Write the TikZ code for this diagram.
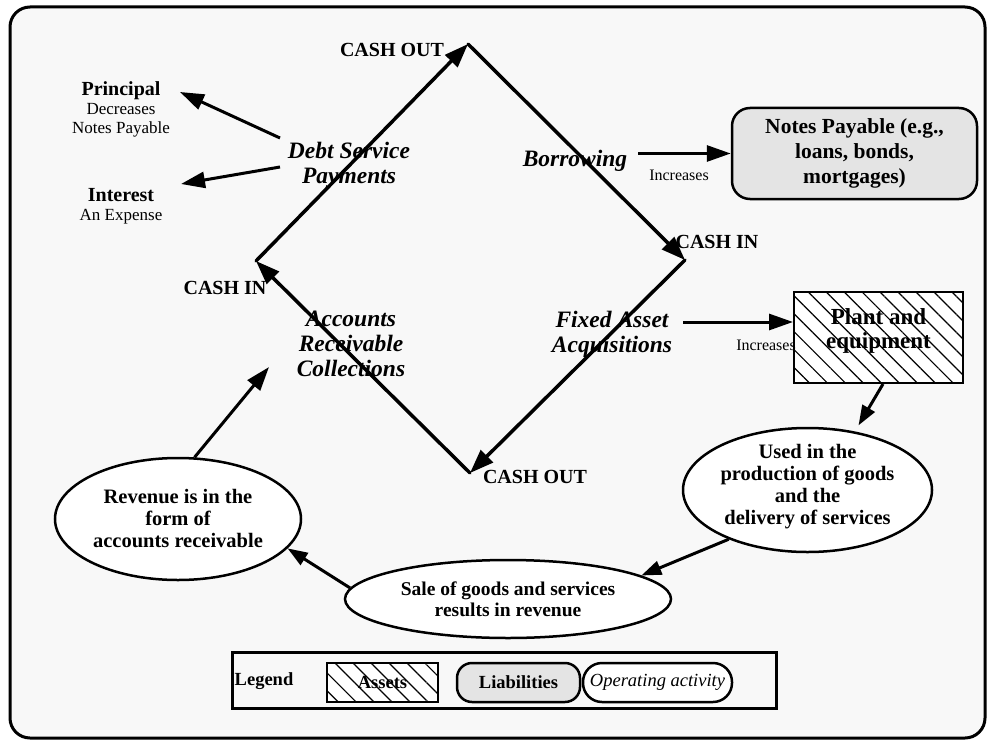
\documentclass[tikz,border=0pt]{standalone}
\usepackage{fontspec}
\setmainfont{Liberation Serif}
\usetikzlibrary{arrows.meta,shapes.geometric,patterns.meta}
\definecolor{paper}{HTML}{F8F8F8}
\definecolor{liabfill}{HTML}{E4E4E4}
\newcommand\fsz[2]{\fontsize{#1}{#2}\selectfont}
\tikzset{
  frame/.style={draw, line width=3pt, fill=paper, rounded corners=20pt},
  cashlbl/.style={font=\bfseries\fsz{20}{22}, inner sep=0pt},
  flowlbl/.style={font=\bfseries\itshape\fsz{23.5}{25}, align=center, inner sep=0pt},
  note/.style={font=\fsz{16}{18}, inner sep=0pt},
  sidetext/.style={font=\fsz{17}{19}, align=center, inner sep=0pt},
  loopedge/.style={line width=3.5pt, line cap=round, -{Triangle[length=24pt,width=17pt]}},
  sidearrow/.style={line width=3pt, -{Triangle[length=24pt,width=16pt]}},
  smallarrow/.style={line width=3pt, -{Triangle[length=20pt,width=14pt]}},
  hatched/.style={draw, line width=2pt, fill=white,
    postaction={pattern={Lines[angle=-45,distance=12.7pt,line width=1.2pt]}}},
  liability/.style={draw, line width=2.5pt, fill=liabfill, rounded corners=18pt,
    font=\bfseries\fsz{21.5}{25}, align=center, inner sep=0pt},
  activity/.style={ellipse, draw, line width=2.5pt, fill=white,
    font=\bfseries\fsz{20.5}{22}, align=center, inner xsep=-6pt, inner ysep=-8pt},
}
\begin{document}
\begin{tikzpicture}[x=1pt,y=-1pt]
\useasboundingbox (0,0) rectangle (987,741);
\path[frame] (10,7) rectangle (985,738);

% the cash cycle
\coordinate (L) at (256,261);
\coordinate (T) at (468,44);
\coordinate (R) at (685,260);
\coordinate (B) at (470,473);
\draw[loopedge] (L) -- (T);
\draw[loopedge] (T) -- (R);
\draw[loopedge] (R) -- (B);
\draw[loopedge] (B) -- (L);

\node[cashlbl] (outtop) at (392,50) {CASH OUT};
\node[cashlbl] (inright) at (717,242) {CASH IN};
\node[cashlbl] (inleft) at (225,288) {CASH IN};
\node[cashlbl] (outbot) at (535,477) {CASH OUT};

% flows along the cycle
\node[flowlbl] (debt) at (349,165) {Debt Service\\Payments};
\node[flowlbl] (borrow) at (575,161) {Borrowing};
\node[flowlbl] (collect) at (351,344) {Accounts\\Receivable\\Collections};
\node[flowlbl] (fixed) at (612,334) {Fixed Asset\\Acquisitions};

% debt service split
\node[sidetext] (princ) at (121,109) {{\bfseries\fsz{20}{20}Principal}\\Decreases\\Notes Payable};
\node[sidetext] (inter) at (121,206) {{\bfseries\fsz{20}{20}Interest}\\An Expense};
\coordinate (d1) at (280,138);
\coordinate (d2) at (280,167);
\coordinate (p1) at (180,92);
\coordinate (i1) at (181,184);
\draw[sidearrow] (d1) -- (p1);
\draw[sidearrow] (d2) -- (i1);

% balance sheet accounts
\node[liability, minimum width=245pt, minimum height=91pt] (notes) at (854.5,153.5)
  {Notes Payable (e.g.,\\loans, bonds,\\mortgages)};
\node[hatched, minimum width=169pt, minimum height=91pt, inner sep=0pt,
  font=\bfseries\fsz{23}{24}, align=center] (plant) at (878.5,337.5)
  {Plant and\\equipment\rule[-18pt]{0pt}{18pt}};

\coordinate (b0) at (638,153.5);
\draw[sidearrow] (b0) -- (notes.west);
\node[note] (incA) at (679,175) {Increases};
\coordinate (f0) at (683,322);
\draw[sidearrow] (f0) -- (plant.west |- f0);
\node[note] (incB) at (766,345) {Increases};

% operating activities
\node[activity, minimum width=249pt, minimum height=124pt] (used) at (807.5,490)
  {Used in the\\production of goods\\and the\\delivery of services\rule[-12pt]{0pt}{12pt}};
\node[activity, minimum width=326pt, minimum height=78pt, font=\bfseries\fsz{19.5}{21}] (sale) at (508,599)
  {Sale of goods and services\\results in revenue};
\node[activity, minimum width=246pt, minimum height=122pt] (rev) at (178,519)
  {Revenue is in the\\form of\\accounts receivable};

\draw[smallarrow, shorten >=7pt] ([xshift=4.5pt]plant.south) -- (used.51);
\draw[smallarrow] (used.212) -- (sale.10);
\draw[smallarrow] (sale.176) -- (rev.-15);
\coordinate (ar) at (269,367);
\draw[sidearrow] (rev.75) -- (ar);

% legend
\node[draw, line width=3pt, minimum width=544pt, minimum height=56pt] (legend) at (504,680) {};
\node[font=\bfseries\fsz{18.5}{20}, inner sep=0pt] (legtitle) at (264,681) {Legend};
\node[hatched, minimum width=111pt, minimum height=39pt, inner sep=0pt,
  font=\bfseries\fsz{18.5}{20}] (legasset) at (382.5,682.5) {Assets};
\node[liability, minimum width=123pt, minimum height=39pt, rounded corners=15pt,
  font=\bfseries\fsz{18.5}{20}] (legliab) at (518.5,682.5) {Liabilities};
\node[draw, line width=2.5pt, fill=white, rounded corners=19pt, minimum width=149pt,
  minimum height=39pt, inner sep=0pt, font=\itshape\fsz{18.5}{20}] (legop) at (657.5,682.5) {Operating activity};
\end{tikzpicture}
\end{document}
